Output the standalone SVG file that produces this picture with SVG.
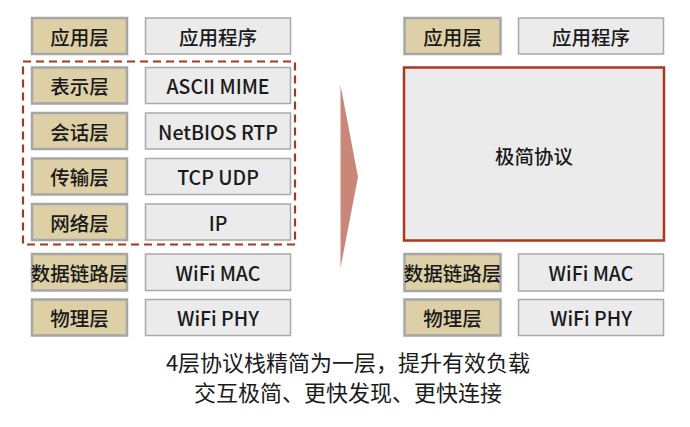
<svg xmlns="http://www.w3.org/2000/svg" width="690" height="427" viewBox="0 0 690 427">
<defs>
<style>
.layer{fill:#ded0a6;stroke:#a6a6a6;stroke-width:2.5}
.proto{fill:#ebebeb;stroke:#a9a9a9;stroke-width:1.5}
.t{font-family:"Noto Sans CJK SC","Noto Sans",sans-serif;font-size:19.5px;font-weight:500;fill:#1a1a1a;text-anchor:middle;dominant-baseline:central}
.cap{font-family:"Noto Sans CJK SC","Noto Sans",sans-serif;font-size:22px;font-weight:400;fill:#1a1a1a;text-anchor:middle}
</style>
</defs>
<rect width="690" height="427" fill="#ffffff"/>
<g id="left-app"><rect class="layer" x="32" y="18" width="95" height="36"/><text class="t" x="79.5" y="36">应用层</text></g>
<g id="left-app-p"><rect class="proto" x="145.5" y="18" width="145" height="36"/><text class="t" x="218" y="36">应用程序</text></g>
<g id="left-pres"><rect class="layer" x="32" y="67.5" width="95" height="36"/><text class="t" x="79.5" y="85.5">表示层</text></g>
<g id="left-pres-p"><rect class="proto" x="145.5" y="67.5" width="145" height="36"/><text class="t" x="218" y="85.5">ASCII MIME</text></g>
<g id="left-sess"><rect class="layer" x="32" y="113" width="95" height="36"/><text class="t" x="79.5" y="131">会话层</text></g>
<g id="left-sess-p"><rect class="proto" x="145.5" y="113" width="145" height="36"/><text class="t" x="218" y="131">NetBIOS RTP</text></g>
<g id="left-trans"><rect class="layer" x="32" y="158.5" width="95" height="36"/><text class="t" x="79.5" y="176.5">传输层</text></g>
<g id="left-trans-p"><rect class="proto" x="145.5" y="158.5" width="145" height="36"/><text class="t" x="218" y="176.5">TCP UDP</text></g>
<g id="left-net"><rect class="layer" x="32" y="204" width="95" height="36"/><text class="t" x="79.5" y="222">网络层</text></g>
<g id="left-net-p"><rect class="proto" x="145.5" y="204" width="145" height="36"/><text class="t" x="218" y="222">IP</text></g>
<g id="left-link"><rect class="layer" x="32" y="254" width="95" height="36.5"/><text class="t" x="79.5" y="272">数据链路层</text></g>
<g id="left-link-p"><rect class="proto" x="145.5" y="254" width="145" height="36.5"/><text class="t" x="218" y="272">WiFi MAC</text></g>
<g id="left-phy"><rect class="layer" x="32" y="299.5" width="95" height="36"/><text class="t" x="79.5" y="317.5">物理层</text></g>
<g id="left-phy-p"><rect class="proto" x="145.5" y="299.5" width="145" height="36"/><text class="t" x="218" y="317.5">WiFi PHY</text></g>
<g id="group-box"><rect x="23" y="61.5" width="272" height="183" fill="none" stroke="#a13a20" stroke-width="2.2" stroke-dasharray="8,5"/></g>
<g id="arrow"><polygon points="340.5,85 358,177 340.5,268" fill="#c9877a"/></g>
<g id="right-app"><rect class="layer" x="404.5" y="18" width="96" height="36"/><text class="t" x="452.5" y="36">应用层</text></g>
<g id="right-app-p"><rect class="proto" x="518.5" y="18" width="145" height="36"/><text class="t" x="591" y="36">应用程序</text></g>
<g id="right-simple"><rect x="404" y="67.5" width="260" height="173" fill="#ebebeb" stroke="#a8391f" stroke-width="2.5"/><text class="t" x="534" y="155">极简协议</text></g>
<g id="right-link"><rect class="layer" x="404.5" y="254" width="96" height="37"/><text class="t" x="452.5" y="272.5">数据链路层</text></g>
<g id="right-link-p"><rect class="proto" x="518.5" y="254" width="145" height="37"/><text class="t" x="591" y="272.5">WiFi MAC</text></g>
<g id="right-phy"><rect class="layer" x="404.5" y="299.5" width="96" height="36"/><text class="t" x="452.5" y="317.5">物理层</text></g>
<g id="right-phy-p"><rect class="proto" x="518.5" y="299.5" width="145" height="36"/><text class="t" x="591" y="317.5">WiFi PHY</text></g>
<g id="connectors"></g>
<g id="caption">
<text class="cap" x="348" y="371">4层协议栈精简为一层，提升有效负载</text>
<text class="cap" x="348" y="401">交互极简、更快发现、更快连接</text>
</g>
</svg>
